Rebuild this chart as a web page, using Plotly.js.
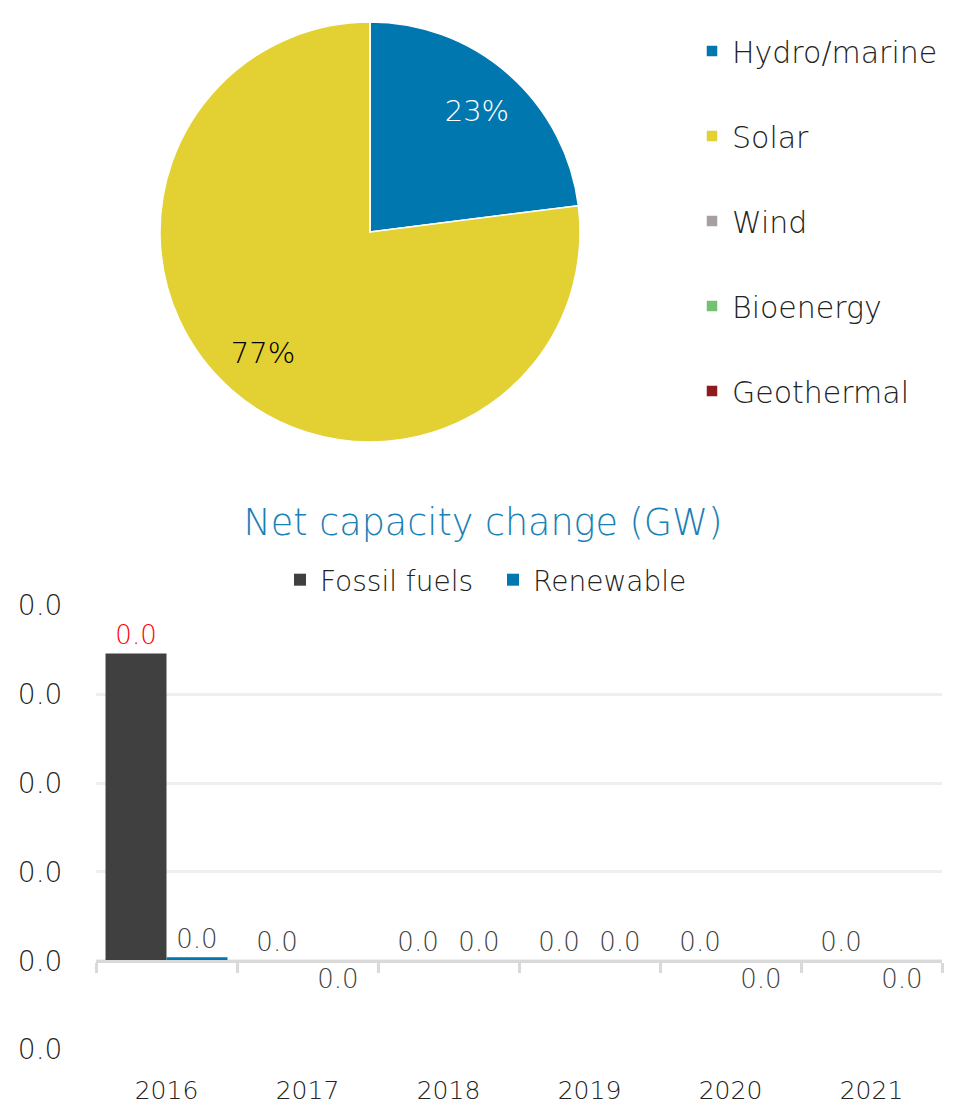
<!DOCTYPE html>
<html>
<head>
<meta charset="utf-8">
<script src="https://cdn.plot.ly/plotly-3.0.1.min.js"></script>
<style>html,body{margin:0;padding:0;background:#fff;}#chart{width:972px;height:1107px;}</style>
</head>
<body>
<div id="chart"></div>
<script>
// ---- Pie data: share of renewable capacity ----
const pieLabels = ['Hydro/marine', 'Solar', 'Wind', 'Bioenergy', 'Geothermal'];
const pieValues = [23, 77, 0, 0, 0];
const pieColors = ['#0077AF', '#E3D032', '#A89FA2', '#74C16F', '#8E1B1B'];
const pieTextColors = ['#FFFFFF', '#000000', '#000000', '#000000', '#000000'];

// ---- Bar data: net capacity change (GW) ----
const years = ['2016', '2017', '2018', '2019', '2020', '2021'];
const fossilValues = [0.0346, 0.00001, 0.00001, 0.00001, 0.00001, 0.00001];
const renewableValues = [0.0004, -0.00001, 0.00001, 0.00001, -0.00001, -0.00001];
const fossilLabelColors = ['#FF0000', '#404040', '#404040', '#404040', '#404040', '#404040'];
const yTickVals = [-0.01, 0, 0.01, 0.02, 0.03, 0.04];
const yTickText = ['0.0', '0.0', '0.0', '0.0', '0.0', '0.0'];

const fmt = v => (Math.round(v * 10) / 10 + 0).toFixed(1);
const FONT = '"DejaVu Sans", "Open Sans", sans-serif';
const W = 200;

// pie slices (no text)
const pie = {
  type: 'pie',
  labels: pieLabels,
  values: pieValues,
  marker: {colors: pieColors, line: {color: '#FFFFFF', width: 1.5}},
  sort: false,
  direction: 'clockwise',
  rotation: 0,
  textinfo: 'none',
  domain: {x: [160/972, 580/972], y: [1 - 442/1107, 1 - 22/1107]},
  legend: 'legend',
  hoverinfo: 'label+percent'
};

// same data again, as a transparent ring that only carries the percentage labels
const pieLabelRing = {
  type: 'pie',
  labels: pieLabels,
  values: pieValues,
  marker: {colors: pieLabels.map(() => 'rgba(0,0,0,0)'), line: {width: 0}},
  hole: 0.54,
  sort: false,
  direction: 'clockwise',
  rotation: 0,
  textinfo: 'percent',
  texttemplate: '%{percent:.0%}',
  textposition: 'inside',
  insidetextorientation: 'horizontal',
  insidetextfont: {color: pieTextColors, size: 29, family: FONT, weight: W},
  domain: {x: [160/972, 580/972], y: [1 - 442/1107, 1 - 22/1107]},
  showlegend: false,
  hoverinfo: 'skip'
};

const fossil = {
  type: 'bar',
  name: 'Fossil fuels',
  x: years,
  y: fossilValues,
  marker: {color: '#404040'},
  text: fossilValues.map(fmt),
  texttemplate: '%{text}',
  textposition: 'outside',
  textfont: {color: fossilLabelColors, size: 26, family: FONT, weight: W},
  constraintext: 'none',
  cliponaxis: false,
  legend: 'legend2',
  xaxis: 'x', yaxis: 'y'
};

const renewable = {
  type: 'bar',
  name: 'Renewable',
  x: years,
  y: renewableValues,
  marker: {color: '#0077AF'},
  text: renewableValues.map(fmt),
  texttemplate: '%{text}',
  textposition: 'outside',
  textfont: {color: '#404040', size: 26, family: FONT, weight: W},
  constraintext: 'none',
  cliponaxis: false,
  legend: 'legend2',
  xaxis: 'x', yaxis: 'y'
};

// invisible helper carrying the categories onto the zero-line axis
// (its blank legend entry sits below the pie legend so that tracegroupgap applies)
const zeroAxisCarrier = {
  type: 'scatter', mode: 'none', x: years, y: years.map(() => 0),
  xaxis: 'x2', yaxis: 'y', name: ' ', legend: 'legend', legendgroup: 'zz',
  showlegend: true, hoverinfo: 'skip'
};

const yDom = [1 - 1050/1107, 1 - 605/1107];
const yRange = [-0.01, 0.04];
const zeroPos = yDom[0] + (yDom[1] - yDom[0]) * (0 - yRange[0]) / (yRange[1] - yRange[0]);

const layout = {
  width: 972, height: 1107,
  margin: {l: 0, r: 0, t: 0, b: 0},
  paper_bgcolor: '#FFFFFF',
  plot_bgcolor: '#FFFFFF',
  font: {family: FONT, color: '#222222', weight: W},
  bargap: 0.135,
  bargroupgap: 0,
  barmode: 'group',
  title: {
    text: 'Net capacity change (GW)',
    font: {size: 36.5, color: '#1A80B6', family: FONT, weight: W},
    x: 483/972, xanchor: 'center', xref: 'paper',
    y: 1 - 522/1107, yanchor: 'middle', yref: 'paper'
  },
  legend: {
    x: 692/972, xanchor: 'left',
    y: 1 - 25/1107, yanchor: 'top',
    orientation: 'v',
    traceorder: 'grouped',
    tracegroupgap: 43,
    font: {size: 30, color: '#222222', family: FONT, weight: W},
    bgcolor: 'rgba(0,0,0,0)',
    itemclick: false
  },
  legend2: {
    x: 280/972, xanchor: 'left',
    y: 1 - 580/1107, yanchor: 'middle',
    orientation: 'h',
    entrywidth: 168, entrywidthmode: 'pixels',
    font: {size: 28, color: '#222222', family: FONT, weight: W},
    bgcolor: 'rgba(0,0,0,0)'
  },
  xaxis: {
    domain: [96/972, 942/972],
    anchor: 'y',
    type: 'category',
    categoryorder: 'array', categoryarray: years,
    showgrid: false, zeroline: false, showline: false,
    ticks: 'outside', ticklen: 18, tickcolor: 'rgba(0,0,0,0)',
    tickfont: {size: 25, color: '#222222', family: FONT, weight: W},
    fixedrange: true
  },
  xaxis2: {
    domain: [96/972, 942/972],
    anchor: 'free', position: zeroPos,
    overlaying: 'x', matches: 'x',
    type: 'category',
    categoryorder: 'array', categoryarray: years,
    showgrid: false, zeroline: false,
    showline: true, linecolor: '#D9D9D9', linewidth: 3,
    ticks: 'outside', tickson: 'boundaries', ticklen: 10, tickwidth: 3, tickcolor: '#D9D9D9',
    showticklabels: false,
    fixedrange: true
  },
  yaxis: {
    domain: yDom,
    range: [yRange[0] - 0.00005, yRange[1] + 0.00005],
    tickvals: yTickVals, ticktext: yTickText,
    showgrid: true, gridcolor: '#EFEFEF', gridwidth: 3,
    zeroline: false, showline: false,
    ticks: 'outside', ticklen: 27, tickcolor: 'rgba(0,0,0,0)',
    tickfont: {size: 28, color: '#222222', family: FONT, weight: W},
    fixedrange: true
  },
  showlegend: true
};

Plotly.newPlot('chart', [pie, pieLabelRing, fossil, renewable, zeroAxisCarrier], layout, {displayModeBar: false});
</script>
</body>
</html>
